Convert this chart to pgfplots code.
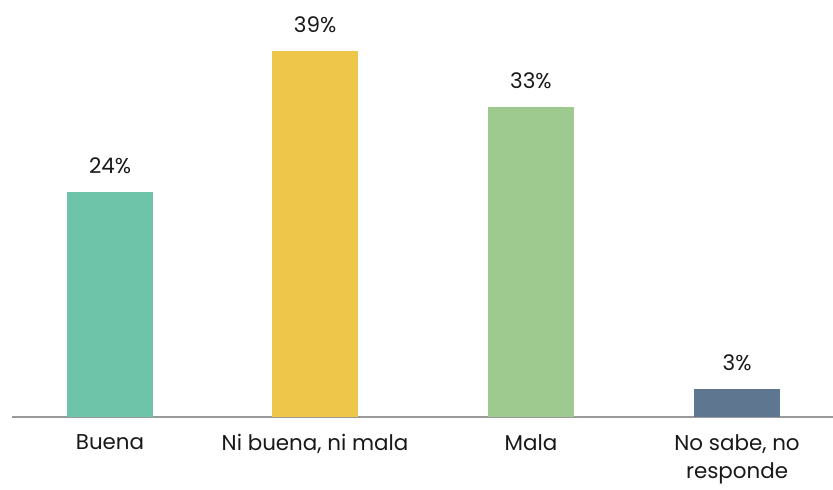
\documentclass[border=0pt]{standalone}
\usepackage{pgfplots}
\pgfplotsset{compat=1.18}
\usepackage{fontspec}
\setmainfont{Poppins}
\definecolor{cA}{HTML}{6DC4A9}
\definecolor{cB}{HTML}{EEC74A}
\definecolor{cC}{HTML}{9FCA8F}
\definecolor{cD}{HTML}{5F7690}
\definecolor{axg}{HTML}{9A9A9A}
\begin{document}
\begin{tikzpicture}[x=1bp,y=1bp]
\useasboundingbox (-12,-73) rectangle (821,417);
\begin{axis}[
  at={(0,0)}, anchor=south west,
  scale only axis, width=821bp, height=417bp,
  xmin=-0.469, xmax=3.459, ymin=0, ymax=44.4,
  axis x line=bottom, axis y line=none,
  axis line style={axg, line width=1.5bp, -},
  xtick={0,0.981,2.014,3},
  xticklabels={Buena, {Ni buena, ni mala}, Mala, {No sabe, no\\responde}},
  x tick label style={font=\fontsize{21.5}{28}\selectfont, color=black!90, align=center, yshift=-14bp},
  major tick length=0pt,
  ybar, bar width=86bp, bar shift=0pt,
  nodes near coords={\pgfmathprintnumber[assume math mode=true]{\pgfplotspointmeta}\%},
  every node near coord/.append style={font=\fontsize{21.5}{24}\selectfont, color=black!90, inner sep=0pt, yshift=18bp},
  point meta=y,
]
\addplot[fill=cA, draw=none] coordinates {(0,24)};
\addplot[fill=cB, draw=none] coordinates {(0.981,39)};
\addplot[fill=cC, draw=none] coordinates {(2.014,33)};
\addplot[fill=cD, draw=none] coordinates {(3,3)};
\end{axis}
\end{tikzpicture}
\end{document}
